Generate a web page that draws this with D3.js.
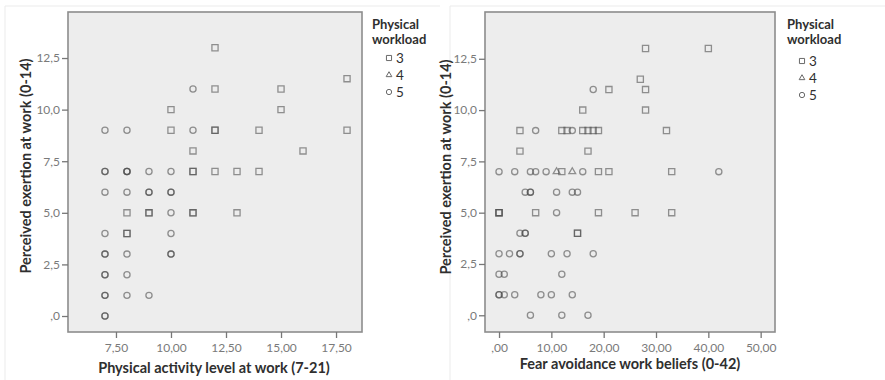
<!DOCTYPE html>
<html><head><meta charset="utf-8">
<script src="https://cdn.jsdelivr.net/npm/d3@7"></script>
<style>
body{margin:0;background:#fff;}
svg{display:block;}
text{font-family:Lato,"Open Sans",sans-serif;}
</style></head>
<body>
<svg id="c" width="885" height="380"></svg>
<script>
// ---------- data ----------
const yTickValues = [0, 2.5, 5, 7.5, 10, 12.5];
const yTickLabels = [",0", "2,5", "5,0", "7,5", "10,0", "12,5"];
const leftXTickValues = [7.5, 10, 12.5, 15, 17.5];
const leftXTickLabels = ["7,50", "10,00", "12,50", "15,00", "17,50"];
const rightXTickValues = [0, 10, 20, 30, 40, 50];
const rightXTickLabels = [",00", "10,00", "20,00", "30,00", "40,00", "50,00"];
const legendTitle = ["Physical", "workload"];
const workloadLevels = ["3", "4", "5"];
const yTitle = "Perceived exertion at work (0-14)";
const leftXTitle = "Physical activity level at work (7-21)";
const rightXTitle = "Fear avoidance work beliefs (0-42)";

// [x, y, workload]  (repeated rows = overlapping cases)
const activityPoints = [
  [12,13,3],[18,11.5,3],[12,11,3],[15,11,3],[10,10,3],[15,10,3],
  [10,9,3],[12,9,3],[12,9,3],[14,9,3],[18,9,3],[11,8,3],[16,8,3],
  [11,7,3],[11,7,3],[12,7,3],[13,7,3],[14,7,3],
  [8,5,3],[9,5,3],[9,5,3],[11,5,3],[11,5,3],[13,5,3],[8,4,3],[8,4,3],
  [11,11,5],[7,9,5],[8,9,5],[11,9,5],
  [7,7,5],[7,7,5],[8,7,5],[8,7,5],[8,7,5],[9,7,5],[10,7,5],
  [7,6,5],[8,6,5],[9,6,5],[9,6,5],[10,6,5],[10,6,5],
  [10,5,5],[7,4,5],[10,4,5],
  [7,3,5],[7,3,5],[8,3,5],[10,3,5],[10,3,5],
  [7,2,5],[7,2,5],[8,2,5],
  [7,1,5],[7,1,5],[8,1,5],[9,1,5],
  [7,0,5],[7,0,5]
];
const fearPoints = [
  [28,13,3],[40,13,3],[27,11.5,3],[21,11,3],[28,11,3],[16,10,3],[28,10,3],
  [4,9,3],[12,9,3],[13,9,3],[16,9,3],[17,9,3],[18,9,3],[19,9,3],[32,9,3],
  [4,8,3],[17,8,3],[12,7,3],[19,7,3],[21,7,3],[33,7,3],
  [0,5,3],[0,5,3],[0,5,3],[7,5,3],[19,5,3],[26,5,3],[33,5,3],[15,4,3],[15,4,3],
  [11,7,4],[14,7,4],
  [18,11,5],[7,9,5],[14,9,5],
  [0,7,5],[3,7,5],[6,7,5],[7,7,5],[9,7,5],[16,7,5],[42,7,5],
  [5,6,5],[6,6,5],[6,6,5],[11,6,5],[14,6,5],[15,6,5],
  [11,5,5],[4,4,5],[5,4,5],[5,4,5],
  [0,3,5],[2,3,5],[4,3,5],[4,3,5],[10,3,5],[13,3,5],[18,3,5],
  [0,2,5],[1,2,5],[12,2,5],
  [0,1,5],[0,1,5],[1,1,5],[3,1,5],[8,1,5],[10,1,5],[14,1,5],
  [6,0,5],[12,0,5],[17,0,5]
];

// ---------- drawing ----------
const svg = d3.select("#c");
const symbolFor = {
  "3": d3.symbol().type(d3.symbolSquare).size(38),
  "4": d3.symbol().type(d3.symbolTriangle).size(20),
  "5": d3.symbol().type(d3.symbolCircle).size(30)
};
const markStroke = "#4a4a4a";

function panel(cfg) {
  const g = svg.append("g");
  // faint panel border (left and top edges)
  g.append("path")
    .attr("d", `M${cfg.panel[0]},${cfg.panel[3]}V${cfg.panel[1]}H${cfg.panel[2]}`)
    .attr("fill", "none").attr("stroke", "#ebebeb").attr("stroke-width", 1);

  const x = d3.scaleLinear().domain(cfg.xDomain).range([cfg.frame.x0, cfg.frame.x1]);
  const y = d3.scaleLinear().domain(cfg.yDomain).range([cfg.frame.y1, cfg.frame.y0]);

  g.append("rect").attr("x", cfg.frame.x0).attr("y", cfg.frame.y0)
    .attr("width", cfg.frame.x1 - cfg.frame.x0).attr("height", cfg.frame.y1 - cfg.frame.y0)
    .attr("fill", "#ededed").attr("stroke", "#8c8c8c").attr("stroke-width", 1.6);

  const yAxis = d3.axisLeft(y).tickValues(yTickValues).tickSize(6).tickPadding(2)
    .tickFormat((d, i) => yTickLabels[i]);
  const ya = g.append("g").attr("transform", `translate(${cfg.frame.x0},0)`).call(yAxis);
  ya.select(".domain").remove();
  ya.selectAll("line").attr("stroke", "#777").attr("stroke-width", 1.3);
  ya.selectAll("text").attr("fill", "#7a7a7a").style("font-size", "12px");

  const xAxis = d3.axisBottom(x).tickValues(cfg.xTicks).tickSize(6).tickPadding(5)
    .tickFormat((d, i) => cfg.xLabels[i]);
  const xa = g.append("g").attr("transform", `translate(0,${cfg.frame.y1})`).call(xAxis);
  xa.select(".domain").remove();
  xa.selectAll("line").attr("stroke", "#777").attr("stroke-width", 1.3);
  xa.selectAll("text").attr("fill", "#7a7a7a").style("font-size", "12px");

  g.append("text").attr("transform", `translate(${cfg.yTitlePos[0]},${cfg.yTitlePos[1]}) rotate(-90)`)
    .attr("text-anchor", "middle").attr("dominant-baseline", "central")
    .attr("font-weight", "bold").attr("font-size", 14.5).attr("fill", "#2f2f2f").text(yTitle);
  g.append("text").attr("x", cfg.xTitlePos[0]).attr("y", cfg.xTitlePos[1])
    .attr("text-anchor", "middle").attr("font-weight", "bold").attr("font-size", 14.5)
    .attr("fill", "#2f2f2f").text(cfg.xTitle);

  g.append("g").selectAll("path").data(cfg.points).join("path")
    .attr("d", d => symbolFor[String(d[2])]())
    .attr("transform", d => `translate(${x(d[0])},${y(d[1])})`)
    .attr("fill", "none").attr("stroke", markStroke)
    .attr("stroke-opacity", 0.58).attr("stroke-width", 1.3);

  // legend
  const lg = g.append("g");
  legendTitle.forEach((t, i) => {
    lg.append("text").attr("x", cfg.legend.tx).attr("y", cfg.legend.ty + i * 14.5)
      .attr("font-weight", "bold").attr("font-size", 13).attr("fill", "#2f2f2f").text(t);
  });
  workloadLevels.forEach((lv, i) => {
    const yy = cfg.legend.items[i];
    lg.append("path").attr("d", d3.symbol().type(
        lv === "3" ? d3.symbolSquare : lv === "4" ? d3.symbolTriangle : d3.symbolCircle)
        .size(lv === "3" ? 26 : lv === "4" ? 14 : 22)())
      .attr("transform", `translate(${cfg.legend.sx},${yy})`)
      .attr("fill", "none").attr("stroke", "#6a6a6a").attr("stroke-width", 1);
    lg.append("text").attr("x", cfg.legend.sx + 7).attr("y", yy)
      .attr("dominant-baseline", "central").attr("font-size", 13.5).attr("fill", "#2f2f2f").text(lv);
  });
}

panel({
  panel: [5, 6, 440, 380],
  frame: {x0: 68, x1: 362, y0: 12, y1: 332},
  xDomain: [5.32, 18.68], yDomain: [-0.775, 14.73],
  xTicks: leftXTickValues, xLabels: leftXTickLabels, xTitle: leftXTitle,
  points: activityPoints,
  yTitlePos: [25, 166], xTitlePos: [214, 373],
  legend: {tx: 372, ty: 29, sx: 389, items: [58, 75, 92]}
});
panel({
  panel: [450, 6, 885, 380],
  frame: {x0: 485, x1: 775, y0: 12, y1: 332},
  xDomain: [-2.68, 52.74], yDomain: [-0.815, 14.78],
  xTicks: rightXTickValues, xLabels: rightXTickLabels, xTitle: rightXTitle,
  points: fearPoints,
  yTitlePos: [445, 167], xTitlePos: [630, 369],
  legend: {tx: 787, ty: 29, sx: 802, items: [61, 78, 95]}
});
</script>
</body></html>
